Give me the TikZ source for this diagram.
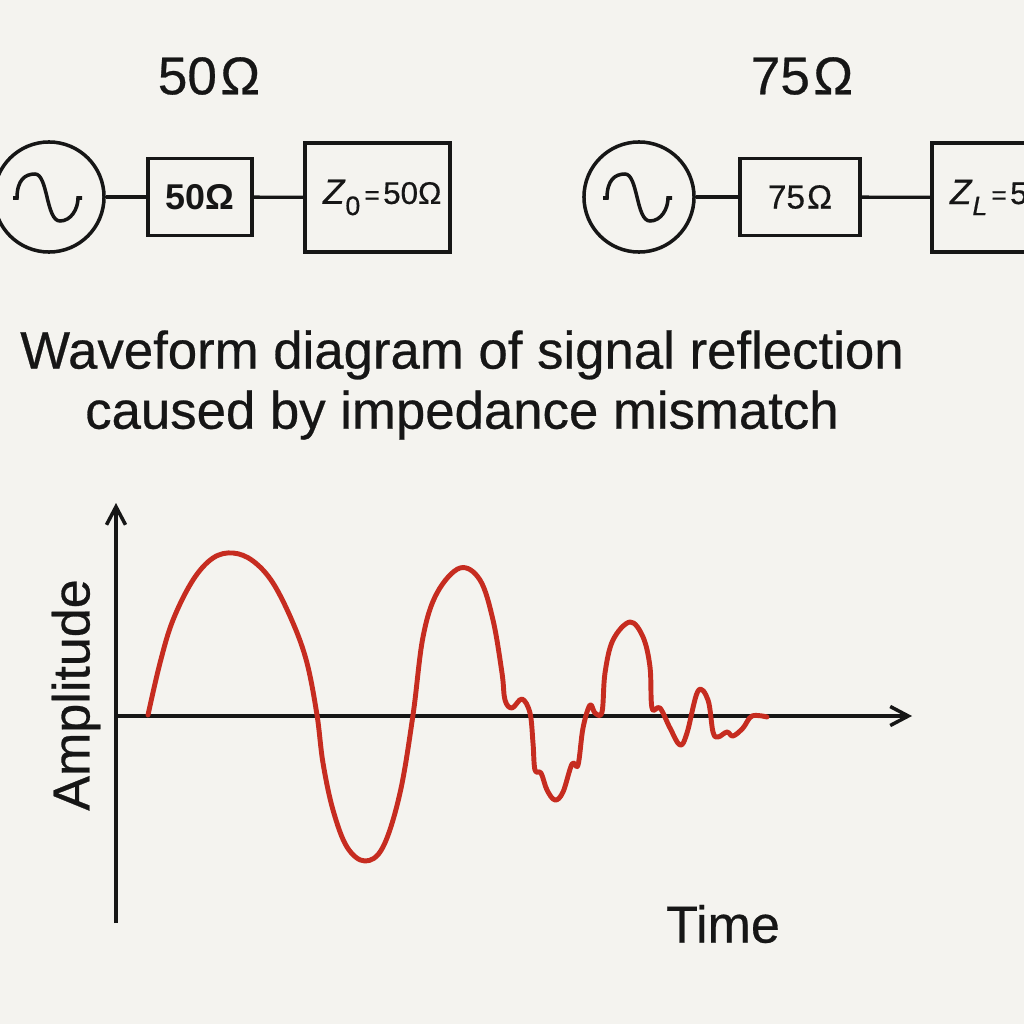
\documentclass[tikz,border=0pt]{standalone}
\usepackage{fontspec}
\setmainfont{Liberation Sans}
\newfontfamily\medfont[FakeBold=0.5]{Liberation Sans}
\usetikzlibrary{arrows.meta}
\definecolor{paper}{HTML}{F4F3EF}
\definecolor{ink}{HTML}{161616}
\definecolor{wavered}{HTML}{C62C20}
\newcommand{\zlabel}[2]{\hspace*{0.08cm}\medfont\textit{\fontsize{10}{12}\selectfont Z}\raisebox{-0.6ex}{\fontsize{7.6}{10}\selectfont #1}\kern1.2pt{\fontsize{7.4}{10}\selectfont =}\kern1pt\fontsize{8.9}{11}\selectfont #2}
\tikzset{
	gen/.style={circle, draw=ink, line width=1pt, minimum size=1.1cm, inner sep=0pt},
	linebox/.style={rectangle, draw=ink, line width=1.1pt, minimum height=0.77cm, inner sep=0pt, text=ink, font=\medfont\fontsize{9.5}{12}\selectfont},
	loadbox/.style={rectangle, draw=ink, line width=1.1pt, minimum height=1.09cm, text width=1.25cm, inner xsep=0.1cm, inner ysep=0pt, align=left, text=ink},
	wire/.style={draw=ink, line width=0.95pt},
	heading/.style={text=ink, inner sep=0pt, font=\medfont\fontsize{15.1}{18}\selectfont},
	axislabel/.style={text=ink, inner sep=0pt, font=\fontsize{14.8}{18}\selectfont},
	axisline/.style={draw=ink, line width=1pt, -{Straight Barb[length=1.8mm,width=1.9mm]}}
}
\begin{document}
\begin{tikzpicture}[x=0.01cm,y=-0.01cm]
	\useasboundingbox (0,0) rectangle (1024,1024);
	\clip (0,0) rectangle (1024,1024);
	\fill[paper] (0,0) rectangle (1024,1024);

	% headings
	\node[heading] (headleft) at (209,76) {50\kern1pt Ω};
	\node[heading] (headright) at (802,76) {75\kern1pt Ω};

	% circuits
	\node[gen] (genleft) at (49,197) {};
	\node[linebox, minimum width=1.04cm, font=\fontsize{10.2}{12}\bfseries\selectfont] (lineleft) at (200,197) {50Ω};
	\node[loadbox] (loadleft) at (377.5,197.5) {\zlabel{0}{50Ω}};
	\node[gen] (genright) at (639,197) {};
	\node[linebox, minimum width=1.2cm] (lineright) at (800,197) {75\kern0.6pt Ω};
	\node[loadbox] (loadright) at (1004.5,197.5) {\zlabel{\textit{L}}{5}};

	\draw[wire] (genleft) -- (lineleft);
	\draw[wire] (lineleft) -- (loadleft);
	\draw[wire] (genright) -- (lineright);
	\draw[wire] (lineright) -- (loadright);

	\foreach \g in {genleft,genright}
		\draw[ink, line width=1pt, shift={(\g.center)}] (-36,1) -- (-32,1) .. controls (-32,-17) and (-24,-23) .. (-14,-23) .. controls (-1,-23) and (-3,24) .. (11,24) .. controls (22,24) and (29,12) .. (29,1) -- (33,1);

	% title
	\node[text=ink, inner sep=0pt, align=center, font=\medfont\fontsize{15}{17.1}\selectfont] (title) at (462,385) {Waveform diagram of signal reflection\\caused by impedance mismatch};

	% axes
	\coordinate (origin) at (116,716);
	\coordinate (ybottom) at (116,923);
	\coordinate (ytop) at (116,503);
	\coordinate (xend) at (912,716);
	\draw[axisline] (ybottom) -- (ytop);
	\draw[axisline] (origin) -- (xend);
	\node[axislabel, rotate=90] (amplitude) at (76,695) {\medfont Amplitude};
	\node[axislabel] (timelabel) at (723,924) {\medfont Time};

	% reflected signal
	\draw[wavered, line width=1.4pt, line cap=round, line join=round] plot[smooth, tension=0.6] coordinates {
		(148,715) (160,663) (173,620) (193,580) (213,558) (233,553) (253,561) (273,583) (293,623) (307,663) (317,715)
		(323,763) (333,810) (347,847) (365,861) (383,847) (400,793) (413,715) (423,637) (437,593)
		(460,568) (480,580) (493,620) (502,673) (505,700) (512,708) (522,699) (530,713)
		(533,743) (535,770) (541,773) (547,790) (555,800) (563,792) (572,764) (578,765)
		(583,728) (590,705) (595,713) (602,712) (605,673) (613,640) (630,622) (643,637)
		(650,667) (652,708) (660,708) (670,728) (680,745) (687,733) (698,691) (708,700)
		(713,732) (718,737) (727,732) (733,736) (743,728) (752,716) (767,717)};
\end{tikzpicture}
\end{document}
